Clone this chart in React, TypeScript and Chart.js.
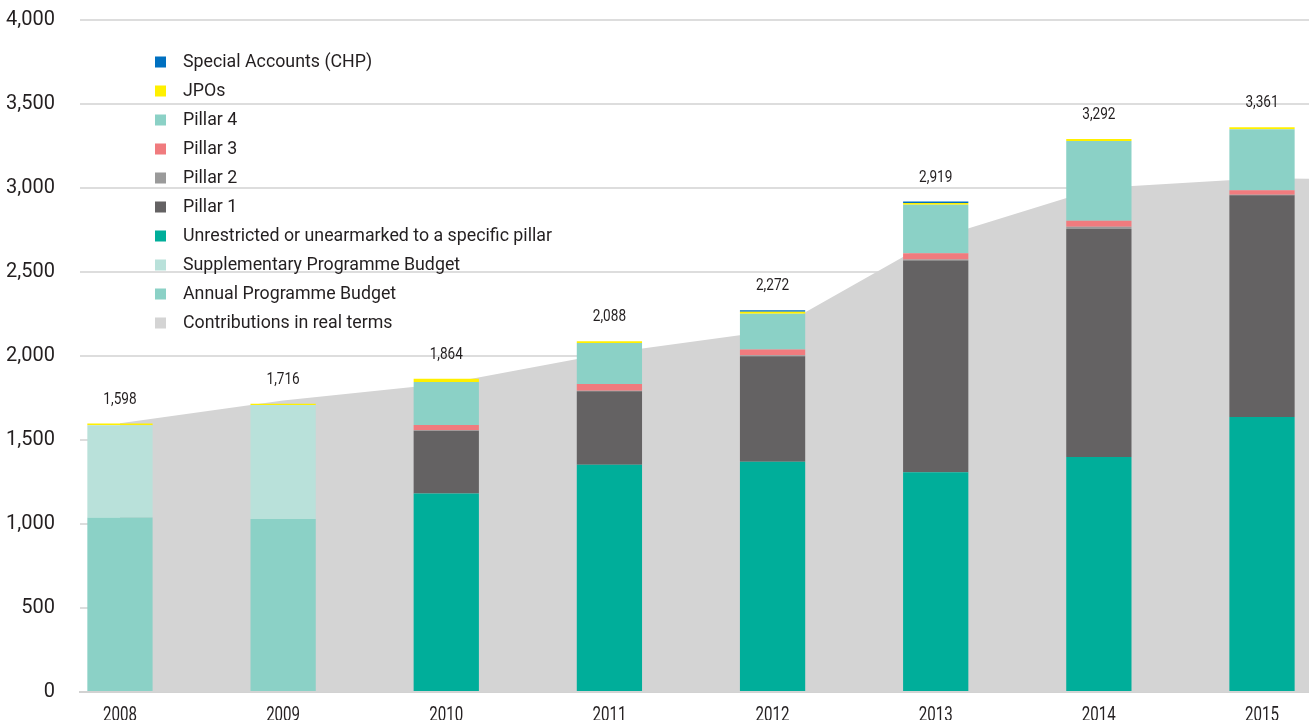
import React, { useEffect, useRef } from "react";
import { Chart, registerables } from "chart.js";

Chart.register(...registerables);

// ---- Data (USD millions) ----
const years = [2008, 2009, 2010, 2011, 2012, 2013, 2014, 2015];
const annualProgramme = [1038, 1030, 0, 0, 0, 0, 0, 0];
const supplementaryProgramme = [550, 678, 0, 0, 0, 0, 0, 0];
const unrestricted = [0, 0, 1182, 1352, 1370, 1308, 1399, 1637];
const pillar1 = [0, 0, 373, 438, 628, 1261, 1357, 1320];
const pillar2 = [0, 0, 3, 3, 7, 6, 14, 3];
const pillar3 = [0, 0, 32, 40, 33, 36, 35, 26];
const pillar4 = [0, 0, 255, 245, 213, 290, 475, 363];
const jpos = [10, 8, 19, 10, 12, 10, 12, 12];
const specialAccounts = [0, 0, 0, 0, 9, 8, 0, 0];
const realTerms = [1600, 1735, 1836, 2018, 2150, 2700, 3000, 3058];
const realTermsAtEdge = 3055;
const yTickValues = [0, 500, 1000, 1500, 2000, 2500, 3000, 3500, 4000];

// axis extent (in years) so that the first/last bars sit like the original
const X_MIN = 2007.755;
const X_MAX = 2015.288;

const FONT = "Roboto";
const TEXT = "#231f20";

const barSeries = [
  { label: "Annual Programme Budget", data: annualProgramme, color: "#8bd1c6" },
  { label: "Supplementary Programme Budget", data: supplementaryProgramme, color: "#b9e1da" },
  { label: "Unrestricted or unearmarked to a specific pillar", data: unrestricted, color: "#00ae9a" },
  { label: "Pillar 1", data: pillar1, color: "#646263" },
  { label: "Pillar 2", data: pillar2, color: "#9a9a9a" },
  { label: "Pillar 3", data: pillar3, color: "#f07b7e" },
  { label: "Pillar 4", data: pillar4, color: "#8bd1c6" },
  { label: "JPOs", data: jpos, color: "#fff000" },
  { label: "Special Accounts (CHP)", data: specialAccounts, color: "#0070c0" },
];
const areaSeries = { label: "Contributions in real terms", color: "#d4d4d4" };

const fmt = (v: number) => v.toLocaleString("en-US");

const overlayPlugin = {
  id: "overlay",
  afterDatasetsDraw(chart: any) {
    const ctx = chart.ctx as CanvasRenderingContext2D;
    const xs = chart.scales.x;
    const ys = chart.scales.y;
    const area = chart.chartArea;

    ctx.save();
    ctx.fillStyle = TEXT;
    ctx.textAlign = "center";
    ctx.textBaseline = "alphabetic";
    years.forEach((yr, i) => {
      const total = barSeries.reduce((s, ser) => s + ser.data[i], 0);
      const x = xs.getPixelForValue(yr);
      const y = ys.getPixelForValue(total) - 20;
      ctx.save();
      ctx.font = `17px ${FONT}`;
      ctx.translate(x, y);
      ctx.scale(0.8, 1);
      ctx.fillText(fmt(total), 0, 0);
      ctx.restore();

      ctx.save();
      ctx.font = `21px ${FONT}`;
      ctx.translate(x, ys.bottom + 29);
      ctx.scale(0.72, 1);
      ctx.fillText(String(yr), 0, 0);
      ctx.restore();
    });

    // legend
    const items = [...barSeries].reverse().map((s) => ({ label: s.label, color: s.color }));
    items.push({ label: areaSeries.label, color: areaSeries.color });
    ctx.font = `17.8px ${FONT}`;
    ctx.textAlign = "left";
    ctx.textBaseline = "middle";
    items.forEach((it, i) => {
      const cy = area.top + 42 + 29 * i;
      ctx.fillStyle = it.color;
      ctx.fillRect(area.left + 75, cy - 5.5, 11, 11);
      ctx.fillStyle = TEXT;
      ctx.fillText(it.label, area.left + 103, cy + 1);
    });
    ctx.restore();
  },
};

export default function App() {
  const ref = useRef<HTMLCanvasElement | null>(null);

  useEffect(() => {
    if (!ref.current) return;
    const datasets: any[] = barSeries.map((s) => ({
      type: "bar",
      label: s.label,
      data: s.data,
      backgroundColor: s.color,
      borderWidth: 0,
      categoryPercentage: 1,
      barPercentage: 0.4,
      order: 1,
    }));
    datasets.push({
      type: "line",
      label: areaSeries.label,
      data: [
        ...years.map((yr, i) => ({ x: yr, y: realTerms[i] })),
        { x: X_MAX, y: realTermsAtEdge },
      ],
      backgroundColor: areaSeries.color,
      borderColor: "transparent",
      borderWidth: 0,
      pointRadius: 0,
      tension: 0,
      fill: "origin",
      order: 10,
    });

    const chart = new Chart(ref.current, {
      type: "bar",
      data: { labels: years, datasets },
      options: {
        animation: false,
        responsive: false,
        events: [],
        layout: { padding: { top: 20, left: 0, right: 0, bottom: 0 } },
        plugins: { legend: { display: false }, tooltip: { enabled: false } },
        scales: {
          x: {
            type: "linear",
            min: X_MIN,
            max: X_MAX,
            offset: false,
            stacked: true,
            grid: { display: false, offset: false },
            border: { display: true, color: "#d2d2d2", width: 2 },
            ticks: { display: false },
            afterFit: (scale: any) => {
              scale.height = 28;
              scale.paddingLeft = 0;
              scale.paddingRight = 0;
            },
          },
          y: {
            min: 0,
            max: 4000,
            stacked: true,
            border: { display: false },
            grid: { color: "#dddddd", lineWidth: 2, drawTicks: false },
            afterBuildTicks: (scale: any) => {
              scale.ticks = yTickValues.map((v) => ({ value: v }));
            },
            ticks: {
              padding: 25,
              color: TEXT,
              font: { family: FONT, size: 20 },
              callback: (v: any) => fmt(Number(v)),
            },
            afterFit: (scale: any) => {
              scale.width = 80;
              scale.paddingTop = 0;
              scale.paddingBottom = 0;
            },
          },
        },
      } as any,
      plugins: [overlayPlugin],
    });
    return () => chart.destroy();
  }, []);

  return (
    <div style={{ position: "fixed", left: 0, top: 0, width: 1309, height: 720, background: "#fff" }}>
      <canvas ref={ref} width={1309} height={720} />
    </div>
  );
}
